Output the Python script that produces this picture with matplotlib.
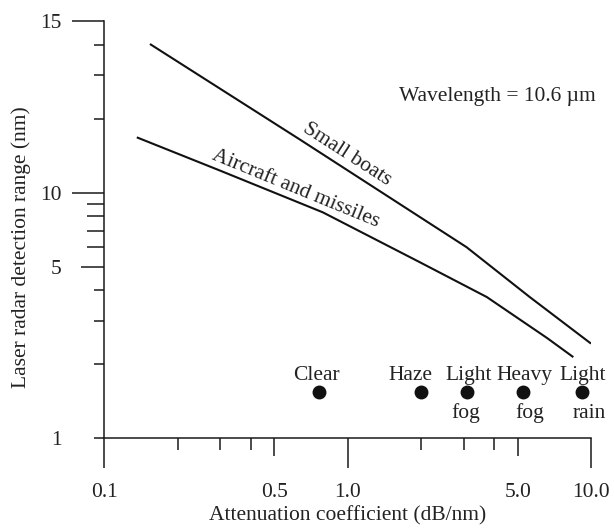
import matplotlib
matplotlib.use("Agg")
import matplotlib.pyplot as plt
from matplotlib.ticker import FixedLocator, FixedFormatter, NullFormatter

plt.rcParams['font.family'] = ['Liberation Serif', 'DejaVu Serif']
plt.rcParams['mathtext.fontset'] = 'stix'

# ---------------- data ----------------
boats_x = [0.154, 0.64, 3.08, 5.6, 10.0]
boats_y = [40.3, 16.4, 6.0, 3.76, 2.43]

aircraft_x = [0.136, 0.299, 0.79, 1.98, 3.73, 6.6, 8.46]
aircraft_y = [16.8, 12.3, 8.32, 5.21, 3.76, 2.56, 2.14]

cond_x = [0.76, 2.0, 3.1, 5.24, 9.16]
cond_y = [1.55, 1.55, 1.55, 1.55, 1.55]
cond_top = ["Clear", "Haze", "Light", "Heavy", "Light"]
cond_bottom = ["", "", "fog", "fog", "rain"]

x_major = [0.1, 0.5, 1.0, 5.0, 10.0]
x_major_labels = ["0.1", "0.5", "1.0", "5.0", "10.0"]
x_minor = [0.2, 0.3, 0.4, 2, 3, 4]
y_major = [1, 5, 10, 50]
y_major_labels = ["1", "5", "10", "15"]
y_minor = [2, 3, 4, 6, 7, 8, 9, 20, 30, 40]

# ---------------- styling ----------------
PX = 72.0 / 100.0  # points per pixel
x_major_len = [30, 18, 30, 18, 30]
x_minor_len = [12] * 6
y_major_len = [10, 23, 32, 32]
y_minor_len = [10, 10, 10, 17, 17, 17, 17, 10, 10, 10]
top_dx = [-2, -10, 1, 2, 1]
bot_dx = [0, 0, -2, 7, 8]

fs = 15.5
lw_axis = 1.1

fig = plt.figure(figsize=(6.14, 5.29), dpi=100)
W, H = 614, 529
x0, x1, y0, y1 = 104.3, 591.0, 438.3, 21.0
ax = fig.add_axes([x0 / W, 1 - y0 / H, (x1 - x0) / W, (y0 - y1) / H])
ax.set_xscale('log')
ax.set_yscale('log')
ax.set_xlim(0.1, 10)
ax.set_ylim(1, 50)
for s in ['top', 'right']:
    ax.spines[s].set_visible(False)
for s in ['left', 'bottom']:
    ax.spines[s].set_linewidth(lw_axis)
    ax.spines[s].set_color('#1a1a1a')

ax.xaxis.set_major_locator(FixedLocator(x_major))
ax.xaxis.set_major_formatter(FixedFormatter(x_major_labels))
ax.xaxis.set_minor_locator(FixedLocator(x_minor))
ax.xaxis.set_minor_formatter(NullFormatter())
ax.yaxis.set_major_locator(FixedLocator(y_major))
ax.yaxis.set_major_formatter(FixedFormatter(y_major_labels))
ax.yaxis.set_minor_locator(FixedLocator(y_minor))
ax.yaxis.set_minor_formatter(NullFormatter())

ax.tick_params(axis='x', which='major', length=0, pad=45 * PX, labelsize=fs,
               width=lw_axis, color='#1a1a1a', labelcolor='#222222')
ax.tick_params(axis='y', which='major', length=0, pad=43 * PX, labelsize=fs,
               width=lw_axis, color='#1a1a1a', labelcolor='#222222')
ax.tick_params(which='minor', length=0, width=lw_axis, color='#1a1a1a')

for t, L in zip(ax.xaxis.get_major_ticks(), x_major_len):
    t.tick1line.set_markersize(L * PX)
for t, L in zip(ax.xaxis.get_minor_ticks(), x_minor_len):
    t.tick1line.set_markersize(L * PX)
for t, L in zip(ax.yaxis.get_major_ticks(), y_major_len):
    t.tick1line.set_markersize(L * PX)
for t, L in zip(ax.yaxis.get_minor_ticks(), y_minor_len):
    t.tick1line.set_markersize(L * PX)

ax.plot(boats_x, boats_y, color='#111111', lw=1.5, solid_capstyle='butt')
ax.plot(aircraft_x, aircraft_y, color='#111111', lw=1.5, solid_capstyle='butt')
ax.plot(cond_x, cond_y, 'o', color='#111111', markersize=9, linestyle='none')

for x, y, t, b, dt, db in zip(cond_x, cond_y, cond_top, cond_bottom, top_dx, bot_dx):
    ax.annotate(t, (x, y), xytext=(dt * PX, 12 * PX), textcoords='offset points',
                ha='center', va='baseline', fontsize=fs, color='#222222')
    if b:
        ax.annotate(b, (x, y), xytext=(db * PX, -26 * PX), textcoords='offset points',
                    ha='center', va='baseline', fontsize=fs, color='#222222')

ax.text(0.991, 14.3, "Small boats", rotation=-32.7, rotation_mode='anchor',
        ha='center', va='center', fontsize=fs, color='#222222')
ax.text(0.612, 10.38, "Aircraft and missiles", rotation=-22.3, rotation_mode='anchor',
        ha='center', va='center', fontsize=fs, color='#222222')
ax.text(4.13, 24.6, "Wavelength = 10.6 µm", ha='center', va='center',
        fontsize=fs, color='#222222')

ax.set_xlabel("Attenuation coefficient (dB/nm)", fontsize=fs, color='#222222')
ax.set_ylabel("Laser radar detection range (nm)", fontsize=fs, color='#222222')
ax.xaxis.set_label_coords((348 - x0) / (x1 - x0), (y0 - 506) / (y0 - y1))
ax.yaxis.set_label_coords((31 - x0) / (x1 - x0), (y0 - 246.7) / (y0 - y1))

fig.savefig("out.png", dpi=100)
